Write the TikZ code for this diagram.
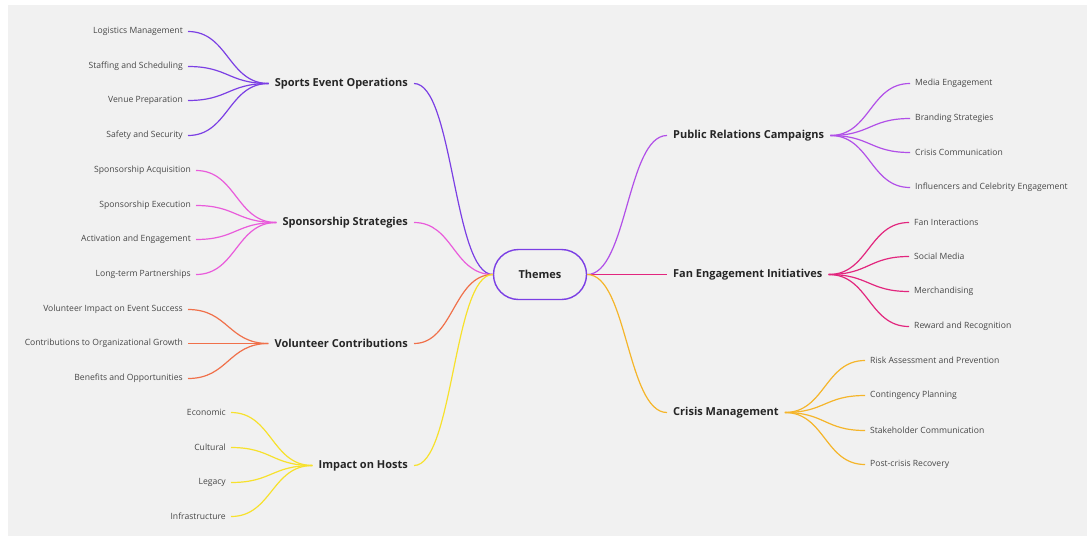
\documentclass[tikz,border=0pt]{standalone}
\usepackage{fontspec}
\setmainfont{Open Sans}
\usetikzlibrary{calc}
\definecolor{bgcol}{HTML}{F1F1F1}
\definecolor{sportscol}{HTML}{7B3FE4}
\definecolor{sponsorcol}{HTML}{E95BDB}
\definecolor{volcol}{HTML}{F0704A}
\definecolor{hostcol}{HTML}{F7E12C}
\definecolor{prcol}{HTML}{B14FE8}
\definecolor{fancol}{HTML}{E2267E}
\definecolor{crisiscol}{HTML}{F5B52A}

\begin{document}
\begin{tikzpicture}[
        x=1pt, y=-1pt,
        theme/.style={rectangle, draw=sportscol, line width=1.4pt, rounded corners=25pt,
          minimum width=93pt, minimum height=50pt, font=\fontsize{11}{13}\selectfont\bfseries, text=black!85},
        topic/.style={font=\fontsize{11}{13}\selectfont\bfseries, text=black!85, inner xsep=6pt, inner ysep=2pt},
        leaf/.style={font=\fontsize{8.6}{10}\selectfont, text=black!72, inner xsep=5pt, inner ysep=1pt},
        link/.style={line width=1.2pt, to path={let \p1=(\tikztostart), \p2=(\tikztotarget) in
          .. controls ({(\x1+\x2)/2},\y1) and ({(\x1+\x2)/2},\y2) .. (\tikztotarget)}}
      ]
      \useasboundingbox (0,-1.5) rectangle (1087,534.5);
      \fill[bgcol] (8,3.5) rectangle (1087,534.5);

      \node[theme] (themes) at (540,273) {Themes};

      % left topics
      \node[topic, anchor=east] (sports) at (414,82) {Sports Event Operations};
      \node[topic, anchor=east] (sponsor) at (414,221) {Sponsorship Strategies};
      \node[topic, anchor=east] (volunteer) at (414,342) {Volunteer Contributions};
      \node[topic, anchor=east] (hosts) at (414,464) {Impact on Hosts};

      % right topics
      \node[topic, anchor=west] (pr) at (667,134) {Public Relations Campaigns};
      \node[topic, anchor=west] (fan) at (667,273) {Fan Engagement Initiatives};
      \node[topic, anchor=west] (crisis) at (667,411) {Crisis Management};

      % leaves, left
      \node[leaf, anchor=east] (logistics) at (188,30) {Logistics Management};
      \node[leaf, anchor=east] (staffing) at (188,65) {Staffing and Scheduling};
      \node[leaf, anchor=east] (venue) at (188,99) {Venue Preparation};
      \node[leaf, anchor=east] (safety) at (188,134) {Safety and Security};

      \node[leaf, anchor=east] (acquisition) at (196,169) {Sponsorship Acquisition};
      \node[leaf, anchor=east] (execution) at (196,204) {Sponsorship Execution};
      \node[leaf, anchor=east] (activation) at (196,238) {Activation and Engagement};
      \node[leaf, anchor=east] (partnerships) at (196,273) {Long-term Partnerships};

      \node[leaf, anchor=east] (success) at (188,308) {Volunteer Impact on Event Success};
      \node[leaf, anchor=east] (growth) at (188,342) {Contributions to Organizational Growth};
      \node[leaf, anchor=east] (benefits) at (188,377) {Benefits and Opportunities};

      \node[leaf, anchor=east] (economic) at (231,411) {Economic};
      \node[leaf, anchor=east] (cultural) at (231,446) {Cultural};
      \node[leaf, anchor=east] (legacy) at (231,481) {Legacy};
      \node[leaf, anchor=east] (infra) at (231,515) {Infrastructure};

      % leaves, right
      \node[leaf, anchor=west] (media) at (910,82) {Media Engagement};
      \node[leaf, anchor=west] (branding) at (910,117) {Branding Strategies};
      \node[leaf, anchor=west] (crisiscomm) at (910,151) {Crisis Communication};
      \node[leaf, anchor=west] (influencers) at (910,186) {Influencers and Celebrity Engagement};

      \node[leaf, anchor=west] (interactions) at (909,221) {Fan Interactions};
      \node[leaf, anchor=west] (social) at (909,255) {Social Media};
      \node[leaf, anchor=west] (merch) at (909,290) {Merchandising};
      \node[leaf, anchor=west] (reward) at (909,325) {Reward and Recognition};

      \node[leaf, anchor=west] (risk) at (865,359) {Risk Assessment and Prevention};
      \node[leaf, anchor=west] (contingency) at (865,394) {Contingency Planning};
      \node[leaf, anchor=west] (stakeholder) at (865,429) {Stakeholder Communication};
      \node[leaf, anchor=west] (recovery) at (865,463) {Post-crisis Recovery};

      % topics to themes
      \draw[link, sportscol] (sports.east) to (themes.west);
      \draw[link, sponsorcol] (sponsor.east) to (themes.west);
      \draw[link, volcol] (volunteer.east) to (themes.west);
      \draw[link, hostcol] (hosts.east) to (themes.west);
      \draw[link, prcol] (themes.east) to (pr.west);
      \draw[link, fancol] (themes.east) to (fan.west);
      \draw[link, crisiscol] (themes.east) to (crisis.west);

      % leaves to topics
      \draw[link, sportscol] (logistics.east) to (sports.west);
      \draw[link, sportscol] (staffing.east) to (sports.west);
      \draw[link, sportscol] (venue.east) to (sports.west);
      \draw[link, sportscol] (safety.east) to (sports.west);
      \draw[link, sponsorcol] (acquisition.east) to (sponsor.west);
      \draw[link, sponsorcol] (execution.east) to (sponsor.west);
      \draw[link, sponsorcol] (activation.east) to (sponsor.west);
      \draw[link, sponsorcol] (partnerships.east) to (sponsor.west);
      \draw[link, volcol] (success.east) to (volunteer.west);
      \draw[link, volcol] (growth.east) to (volunteer.west);
      \draw[link, volcol] (benefits.east) to (volunteer.west);
      \draw[link, hostcol] (economic.east) to (hosts.west);
      \draw[link, hostcol] (cultural.east) to (hosts.west);
      \draw[link, hostcol] (legacy.east) to (hosts.west);
      \draw[link, hostcol] (infra.east) to (hosts.west);

      \draw[link, prcol] (pr.east) to (media.west);
      \draw[link, prcol] (pr.east) to (branding.west);
      \draw[link, prcol] (pr.east) to (crisiscomm.west);
      \draw[link, prcol] (pr.east) to (influencers.west);
      \draw[link, fancol] (fan.east) to (interactions.west);
      \draw[link, fancol] (fan.east) to (social.west);
      \draw[link, fancol] (fan.east) to (merch.west);
      \draw[link, fancol] (fan.east) to (reward.west);
      \draw[link, crisiscol] (crisis.east) to (risk.west);
      \draw[link, crisiscol] (crisis.east) to (contingency.west);
      \draw[link, crisiscol] (crisis.east) to (stakeholder.west);
      \draw[link, crisiscol] (crisis.east) to (recovery.west);
    \end{tikzpicture}
\end{document}
